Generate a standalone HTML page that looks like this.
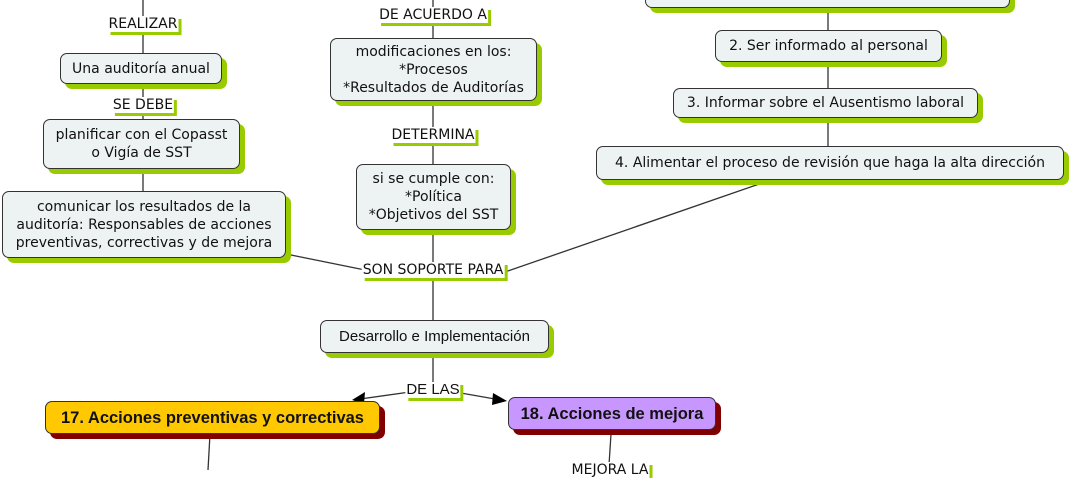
<!DOCTYPE html>
<html><head><meta charset="utf-8"><style>
body{margin:0;width:1070px;height:470px;background:#fff;position:relative;overflow:hidden;font-family:"DejaVu Sans","Liberation Sans",sans-serif;}
.n{position:absolute;box-sizing:border-box;background:#edf3f3;border:1.3px solid #333;border-radius:7px;box-shadow:5px 5px 0 #99cc00;display:flex;align-items:center;justify-content:center;text-align:center;font-size:14px;line-height:18px;color:#111;}
.l{position:absolute;font-size:14px;color:#111;background:#fff;transform:translateX(-50%);line-height:16px;padding:0 1px;box-shadow:3px 3px 0 #99cc00;}
svg{position:absolute;left:0;top:0}
</style></head><body>
<svg width="1070" height="470">
<g stroke="#333" stroke-width="1.3" fill="none">
<line x1="143" y1="0" x2="143" y2="53"/>
<line x1="143" y1="84" x2="143" y2="119"/>
<line x1="143" y1="169" x2="143" y2="191"/>
<line x1="433" y1="0" x2="433" y2="38"/>
<line x1="433" y1="101" x2="433" y2="164"/>
<line x1="433" y1="230" x2="433" y2="320"/>
<line x1="828" y1="8" x2="828" y2="30"/>
<line x1="828" y1="62" x2="828" y2="88"/>
<line x1="828" y1="118" x2="828" y2="146"/>
<line x1="286" y1="254" x2="365" y2="270"/>
<line x1="505" y1="272" x2="765" y2="182"/>
<line x1="433" y1="353" x2="433" y2="385"/>
<line x1="410" y1="392" x2="360" y2="399"/>
<line x1="455" y1="392" x2="495" y2="399"/>
<line x1="210" y1="434" x2="208" y2="470"/>
<line x1="611" y1="434" x2="609" y2="465"/>
</g>
<polygon points="352,400 365,392 364,404" fill="#000"/>
<polygon points="507,401 493,393 492,405" fill="#000"/>
</svg>
<div class="n" style="left:645px;top:-30px;width:365px;height:38px"></div>
<div class="n" style="left:715px;top:30px;width:227px;height:32px">2. Ser informado al personal</div>
<div class="n" style="left:673px;top:88px;width:305px;height:30px">3. Informar sobre el Ausentismo laboral</div>
<div class="n" style="left:596px;top:146px;width:468px;height:34px">4. Alimentar el proceso de revisión que haga la alta dirección</div>
<div class="n" style="left:60px;top:53px;width:162px;height:31px">Una auditoría anual</div>
<div class="n" style="left:43px;top:119px;width:197px;height:50px">planificar con el Copasst<br>o Vigía de SST</div>
<div class="n" style="left:2px;top:191px;width:284px;height:67px">comunicar los resultados de la<br>auditoría: Responsables de acciones<br>preventivas, correctivas y de mejora</div>
<div class="n" style="left:330px;top:38px;width:207px;height:63px">modificaciones en los:<br>*Procesos<br>*Resultados de Auditorías</div>
<div class="n" style="left:356px;top:164px;width:155px;height:66px">si se cumple con:<br>*Política<br>*Objetivos del SST</div>
<div class="n" style="left:320px;top:320px;width:229px;height:33px;font-family:'Liberation Sans',sans-serif;font-size:15px">Desarrollo e Implementación</div>
<div class="n" style="left:45px;top:401px;width:335px;height:33px;background:#ffc800;box-shadow:5px 5px 0 #800000;font-weight:bold;font-family:'Liberation Sans',sans-serif;font-size:16.5px">17. Acciones preventivas y correctivas</div>
<div class="n" style="left:508px;top:397px;width:208px;height:33px;background:#c896ff;box-shadow:5px 5px 0 #800000;font-weight:bold;font-family:'Liberation Sans',sans-serif;font-size:16.5px">18. Acciones de mejora</div>
<div class="l" style="left:143px;top:16px">REALIZAR</div>
<div class="l" style="left:143px;top:97px">SE DEBE</div>
<div class="l" style="left:433px;top:7px">DE ACUERDO A</div>
<div class="l" style="left:433px;top:127px">DETERMINA</div>
<div class="l" style="left:433px;top:262px">SON SOPORTE PARA</div>
<div class="l" style="left:433px;top:382px;font-family:'Liberation Sans',sans-serif;font-size:15px">DE LAS</div>
<div class="l" style="left:610px;top:462px">MEJORA LA</div>
</body></html>
